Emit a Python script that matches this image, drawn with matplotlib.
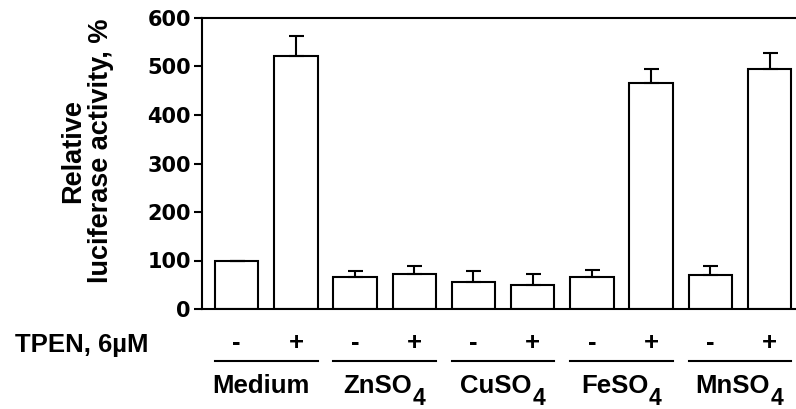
import matplotlib
matplotlib.use("Agg")
import matplotlib.pyplot as plt
import matplotlib.transforms as mtransforms
import numpy as np

# data
groups = ["Medium", "ZnSO", "CuSO", "FeSO", "MnSO"]
group_subs = ["", "4", "4", "4", "4"]
tpen = ["-", "+"] * 5
values = [100, 521, 66, 72, 56, 50, 66, 467, 70, 494]
errors = [0, 42, 12, 17, 22, 22, 15, 27, 19, 33]
yticks = [0, 100, 200, 300, 400, 500, 600]

FONT = "Liberation Sans"
W, H = 796, 409

fig = plt.figure(figsize=(W / 100, H / 100), dpi=100)
ax = fig.add_axes([202 / W, 1 - 309 / H, 608 / W, 291 / H])

x = np.arange(len(values))
ax.bar(x, values, width=0.73, color="white", edgecolor="black", linewidth=1.5,
       yerr=[np.zeros(len(errors)), errors],
       error_kw=dict(ecolor="black", elinewidth=1.5, capsize=5.4, capthick=1.5))

ax.set_xlim(-0.586, 9.684)
ax.set_ylim(0, 600)
ax.set_yticks(yticks)
ax.set_xticks([])
ax.spines["right"].set_visible(False)
for s in ["left", "bottom", "top"]:
    ax.spines[s].set_linewidth(1.5)
ax.tick_params(axis="y", length=6, width=1.5, pad=2)
for lab in ax.get_yticklabels():
    lab.set_fontfamily("DejaVu Sans")
    lab.set_fontweight("bold")
    lab.set_fontsize(15)

# y label, two lines
fig.text(87 / W, 1 - 151 / H, "Relative\nluciferase activity, %", rotation=90,
         ha="center", va="center", multialignment="center", linespacing=1.1,
         fontsize=19.5, fontweight="bold", family=FONT)

# treatment rows below the axis
trans = mtransforms.blended_transform_factory(ax.transData, fig.transFigure)
fig.text(15 / W, 1 - 352 / H, "TPEN, 6\u00b5M", ha="left", va="baseline",
         fontsize=18.5, fontweight="bold", family=FONT)
for i, sign in enumerate(tpen):
    ax.text(i, 1 - 343 / H, sign, transform=trans, ha="center", va="center",
            fontsize=18.5, fontweight="bold", family=FONT)

for g, (name, sub) in enumerate(zip(groups, group_subs)):
    a, b = 2 * g, 2 * g + 1
    ax.plot([a - 0.365, b + 0.365], [1 - 361 / H] * 2, transform=trans,
            color="black", linewidth=1.5, clip_on=False)
    centre = (a + b) / 2
    shift = -5 if sub else -4
    t = ax.annotate(name, xy=(centre, 1 - 393 / H), xycoords=trans,
                    xytext=(shift, 0), textcoords="offset points",
                    ha="center", va="baseline",
                    fontsize=18.5, fontweight="bold", family=FONT)
    if sub:
        ax.annotate(sub, xy=(1, 0), xycoords=t, xytext=(0.5, -5),
                    textcoords="offset points", ha="left", va="baseline",
                    fontsize=16.5, fontweight="bold", family=FONT)

fig.savefig("out.png", dpi=100)
